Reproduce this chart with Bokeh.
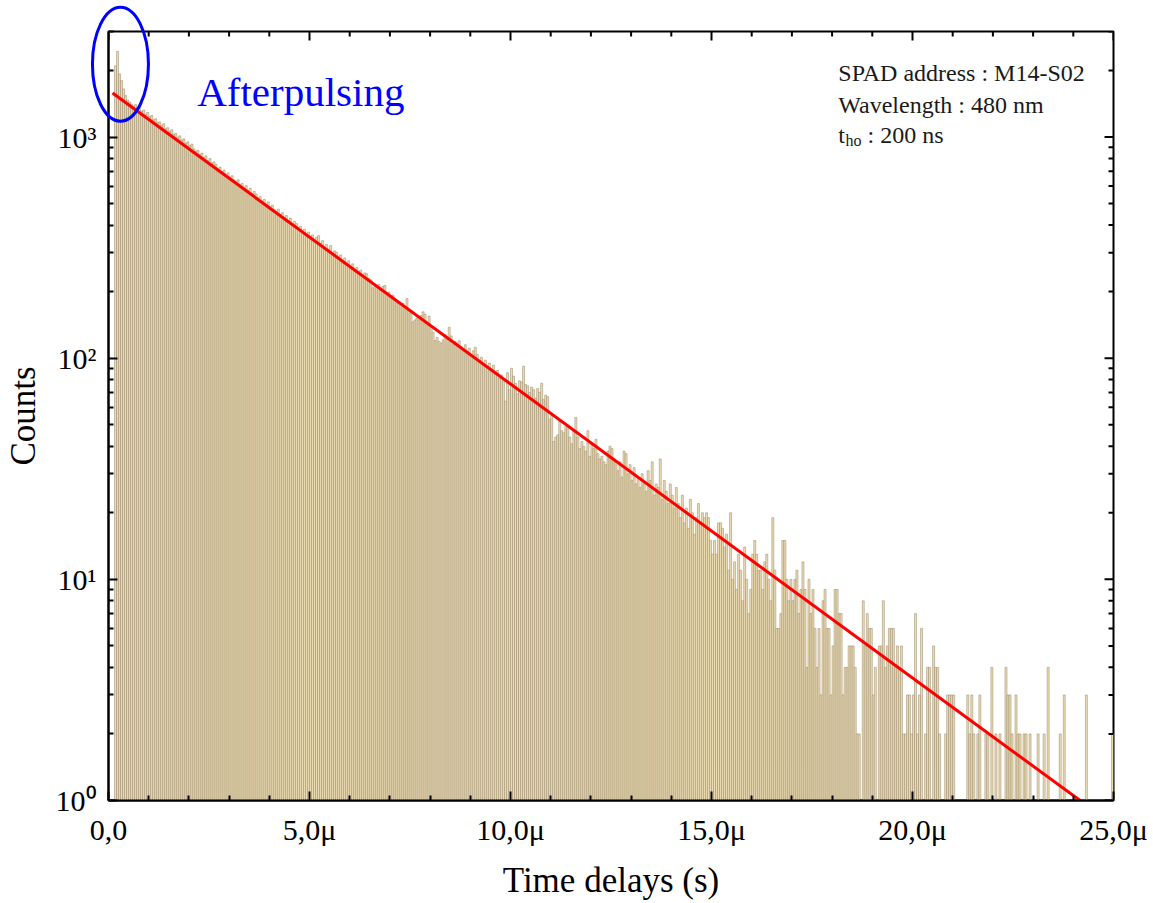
import math
from bokeh.plotting import figure
from bokeh.models import ColumnDataSource, FixedTicker, Label
from bokeh.embed import file_html
from bokeh.resources import INLINE

# ---------------- data ----------------
BIN_START = 0.15   # µs, left edge of first histogram bin
BIN_WIDTH = 0.05   # µs

counts = [
    2100, 2440, 1930, 1800, 1650, 1540, 1470, 1440, 1410, 1380,
    1402, 1355, 1372, 1310, 1326, 1268, 1291, 1237, 1251, 1198,
    1210, 1163, 1171, 1128, 1149, 1089, 1101, 1062, 1079, 1030,
    1038, 998, 1012, 969, 981, 937, 951, 915, 929, 884,
    862, 871, 835, 846, 808, 822, 781, 799, 764, 772,
    751, 722, 731, 698, 709, 672, 688, 659, 668, 640,
    628, 641, 609, 617, 589, 603, 571, 586, 556, 568,
    552, 531, 538, 514, 522, 497, 509, 484, 492, 470,
    461, 472, 446, 455, 433, 442, 419, 430, 407, 416,
    406, 389, 395, 375, 383, 364, 372, 353, 361, 342,
    352, 358, 331, 340, 318, 327, 311, 323, 299, 306,
    301, 287, 293, 276, 284, 268, 276, 259, 267, 251,
    257, 246, 250, 238, 243, 241, 229, 226, 208, 211,
    209, 216, 203, 211, 213, 196, 199, 188, 193, 183,
    180, 178, 174, 177, 169, 186, 165, 160, 146, 149,
    152, 149, 156, 162, 158, 144, 155, 138, 131, 120,
    124, 119, 117, 121, 128, 122, 138, 126, 115, 119,
    117, 120, 113, 109, 115, 106, 111, 102, 108, 112,
    104, 97, 101, 93, 98, 91, 95, 88, 93, 86,
    88, 81, 84, 79, 64, 86, 72, 90, 83, 77,
    69, 79, 78, 92, 76, 75, 70, 74, 72, 66,
    73, 70, 77, 65, 68, 67, 53, 55, 42, 44,
    45, 52, 47, 46, 49, 48, 44, 41, 47, 54,
    44, 39, 42, 40, 38, 47, 36, 41, 39, 43,
    37, 35, 36, 34, 33, 38, 40, 39, 35, 34,
    31, 34, 29, 38, 37, 30, 33, 28, 32, 27,
    29, 26, 30, 27, 25, 31, 28, 34, 24, 27,
    26, 35, 23, 28, 25, 22, 27, 24, 21, 26,
    22, 19, 24, 18, 21, 17, 23, 20, 16, 19,
    22, 18, 20, 19, 20, 19, 15, 13, 15, 13,
    18, 18, 17, 14, 16, 11, 20, 10, 12, 9,
    13, 11, 8, 14, 10, 7, 9, 13, 15, 13,
    11, 11, 9, 12, 13, 10, 8, 19, 11, 6,
    6, 7, 15, 15, 10, 8, 10, 8, 10, 11,
    7, 9, 12, 9, 4, 10, 7, 9, 6, 4,
    6, 3, 8, 9, 6, 6, 3, 5, 9, 9,
    7, 7, 3, 4, 4, 5, 5, 5, 4, 2,
    2, 1, 8, 5, 7, 6, 6, 3, 4, 1,
    5, 5, 8, 4, 5, 6, 6, 6, 4, 5,
    4, 5, 2, 2, 3, 3, 2, 3, 7, 2,
    3, 6, 1, 2, 4, 4, 1, 5, 4, 4,
    2, 1, 0, 2, 3, 3, 3, 3, 1, 0,
    1, 1, 0, 1, 3, 2, 3, 2, 1, 2,
    3, 1, 1, 2, 2, 1, 4, 0, 2, 1,
    2, 1, 1, 4, 3, 3, 2, 1, 3, 2,
    2, 1, 2, 2, 1, 2, 1, 0, 1, 2,
    1, 0, 2, 1, 4, 1, 0, 1, 0, 1,
    2, 1, 3, 1, 0, 1, 0, 1, 1, 0,
    1, 0, 1, 3, 1, 0, 1, 0, 0, 1,
    0, 1, 0, 1, 0, 0, 2,
]

# exponential fit (straight on the log axis): endpoints
fit_x = [0.1, 24.17]
fit_y = [1580, 1]

x_ticks = [0, 5, 10, 15, 20, 25]
x_tick_labels = ["0,0", "5,0μ", "10,0μ", "15,0μ", "20,0μ", "25,0μ"]
y_ticks = [1, 10, 100, 1000]
y_tick_labels = ["10⁰", "10¹", "10²", "10³"]

info_lines = ["SPAD address : M14-S02", "Wavelength : 480 nm"]

FONT = "Liberation Serif"

# ---------------- figure ----------------
W, H = 1153, 903
L, R, T, B = 104, 40, 31, 103
X_MAX, Y_MIN, Y_MAX = 25, 1, 3000

p = figure(width=W, height=H, x_range=(0, X_MAX), y_range=(Y_MIN, Y_MAX),
           y_axis_type="log", output_backend="svg", toolbar_location=None,
           min_border_left=L, min_border_right=R, min_border_top=T, min_border_bottom=B)
p.xgrid.visible = False
p.ygrid.visible = False
p.outline_line_color = "black"
p.outline_line_width = 2
p.background_fill_color = "white"
p.border_fill_color = "white"

# frame helpers (pixel -> data) for annotations
FW = W - L - R
FH = H - T - B
def px_x(px):
    return (px - L) / FW * X_MAX
def px_y(py):
    return 10 ** ((T + FH - py) / FH * math.log10(Y_MAX / Y_MIN)) * Y_MIN

centers = [BIN_START + BIN_WIDTH * (i + 0.5) for i in range(len(counts))]
keep = [i for i, c in enumerate(counts) if c > 0]
src = ColumnDataSource(dict(x=[centers[i] for i in keep],
                            top=[counts[i] for i in keep],
                            bottom=[Y_MIN] * len(keep)))
p.vbar(x="x", top="top", bottom="bottom", width=BIN_WIDTH, source=src,
       fill_color="#ecdcb3", line_color="#968668", line_width=0.5)

p.line(fit_x, fit_y, line_color="#ff0000", line_width=3)

# ---------------- axes ----------------
x_minor = [v for v in range(0, 26) if v % 5 != 0]
y_minor = [m * d for d in y_ticks for m in range(2, 10) if m * d <= Y_MAX]

MAJ, MIN = 9, 5

def style_axis(ax):
    ax.axis_line_width = 2
    ax.axis_line_color = "black"
    ax.major_tick_in = MAJ
    ax.major_tick_out = 0
    ax.minor_tick_in = MIN
    ax.minor_tick_out = 0
    ax.major_tick_line_width = 2
    ax.minor_tick_line_width = 2
    ax.major_tick_line_color = "black"
    ax.minor_tick_line_color = "black"
    ax.major_label_text_font = FONT
    ax.major_label_text_color = "black"
    ax.axis_label_text_font = FONT
    ax.axis_label_text_font_style = "normal"
    ax.axis_label_text_color = "black"

xa = p.xaxis[0]
xa.ticker = FixedTicker(ticks=x_ticks, minor_ticks=x_minor)
style_axis(xa)
xa.major_label_overrides = {t: s for t, s in zip(x_ticks, x_tick_labels)}
xa.major_label_text_font_size = "30px"
xa.major_label_standoff = 12
xa.axis_label = "Time delays (s)"
xa.axis_label_text_font_size = "35px"
xa.axis_label_standoff = 12

ya = p.yaxis[0]
ya.ticker = FixedTicker(ticks=y_ticks, minor_ticks=y_minor)
style_axis(ya)
ya.major_label_overrides = {t: s for t, s in zip(y_ticks, y_tick_labels)}
ya.major_label_text_font_size = "30px"
ya.major_label_standoff = 12
ya.axis_label = "Counts"
ya.axis_label_text_font_size = "35px"
ya.axis_label_standoff = 10

# mirrored inward ticks on the top and right frame edges
top_y_major = px_y(T + MAJ)
top_y_minor = px_y(T + MIN)
p.segment(x0=x_ticks, y0=[Y_MAX] * len(x_ticks), x1=x_ticks, y1=[top_y_major] * len(x_ticks),
          line_color="black", line_width=2)
p.segment(x0=x_minor, y0=[Y_MAX] * len(x_minor), x1=x_minor, y1=[top_y_minor] * len(x_minor),
          line_color="black", line_width=2)
right_x_major = px_x(L + FW - MAJ)
right_x_minor = px_x(L + FW - MIN)
p.segment(x0=[X_MAX] * len(y_ticks), y0=y_ticks, x1=[right_x_major] * len(y_ticks), y1=y_ticks,
          line_color="black", line_width=2)
p.segment(x0=[X_MAX] * len(y_minor), y0=y_minor, x1=[right_x_minor] * len(y_minor), y1=y_minor,
          line_color="black", line_width=2)

# ---------------- annotations ----------------
p.add_layout(Label(x=px_x(193), y=px_y(91.7), text="Afterpulsing",
                   text_font=FONT, text_font_size="41px", text_color="#0000ff",
                   text_baseline="alphabetic"))

# blue ellipse around the afterpulsing peak (overlay level: not clipped to the frame)
cx, cy, rx, ry = 116, 63.7, 28, 57
p.ellipse(x=[px_x(cx)], y=[px_y(cy)], width=2 * rx, height=2 * ry,
          width_units="screen", height_units="screen", fill_alpha=0,
          line_color="#0000ff", line_width=3, level="overlay")

info_x = px_x(836.7)
for txt, base in zip(info_lines, [72.3, 104]):
    p.add_layout(Label(x=info_x, y=px_y(base), text=txt, text_font=FONT,
                       text_font_size="24px", text_color="#1a1a1a",
                       text_baseline="alphabetic"))
p.add_layout(Label(x=info_x, y=px_y(134.3), text="t", text_font=FONT,
                   text_font_size="24px", text_color="#1a1a1a", text_baseline="alphabetic"))
p.add_layout(Label(x=px_x(844), y=px_y(140), text="ho", text_font=FONT,
                   text_font_size="16px", text_color="#1a1a1a", text_baseline="alphabetic"))
p.add_layout(Label(x=px_x(866), y=px_y(134.3), text=": 200 ns", text_font=FONT,
                   text_font_size="24px", text_color="#1a1a1a", text_baseline="alphabetic"))

open("out.html", "w").write(file_html(p, INLINE))
